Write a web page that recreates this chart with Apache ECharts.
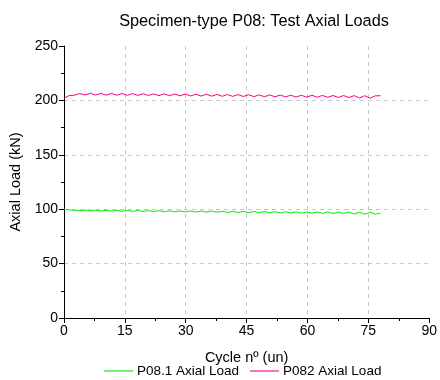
<!DOCTYPE html>
<html><head><meta charset="utf-8">
<script src="https://cdn.jsdelivr.net/npm/echarts@6/dist/echarts.min.js"></script>
<style>html,body{margin:0;padding:0;background:#fff}#c{width:440px;height:380px}</style>
</head><body><div id="c"></div>
<script>
const cycles = [0,1.3,2.6,3.9,5.2,6.5,7.8,9.1,10.4,11.7,13,14.3,15.6,16.9,18.2,19.5,20.8,22.1,23.4,24.7,26,27.3,28.6,29.9,31.2,32.5,33.8,35.1,36.4,37.7,39,40.3,41.6,42.9,44.2,45.5,46.8,48.1,49.4,50.7,52,53.3,54.6,55.9,57.2,58.5,59.8,61.1,62.4,63.7,65,66.3,67.6,68.9,70.2,71.5,72.8,74.1,75.4,76.7,78];
const p081Load = [100.0,99.3,99.0,98.5,99.2,98.4,99.1,98.3,99.1,98.2,99.0,98.1,98.9,98.0,98.8,97.9,98.7,97.8,98.6,97.7,98.5,97.6,98.4,97.5,98.4,97.4,98.3,97.3,98.2,97.2,98.1,97.1,98.0,97.0,98.0,96.9,97.9,96.8,97.8,96.7,97.7,96.6,97.7,96.5,97.6,96.4,97.5,96.3,97.5,96.2,97.4,96.1,97.3,96.0,97.3,95.6,97.2,95.4,97.1,95.3,96.5];
const p082Load = [202.0,204.5,204.8,206.3,205.0,206.5,205.0,206.4,204.8,206.4,204.8,206.3,204.7,206.2,204.6,206.1,204.5,206.0,204.4,206.0,204.3,205.9,204.2,205.8,204.1,205.7,204.0,205.6,203.9,205.5,203.8,205.4,203.7,205.3,203.6,205.2,203.5,205.1,203.4,205.0,203.3,204.9,203.2,204.8,203.1,204.7,203.0,204.7,202.9,204.6,202.8,204.5,202.7,204.5,202.6,204.4,202.2,204.3,202.0,204.2,204.3];
const xTicks = [0,15,30,45,60,75,90];
const yTicks = [0,50,100,150,200,250];
const seriesNames = ['P08.1 Axial Load','P082 Axial Load'];

const chart = echarts.init(document.getElementById('c'), null, {renderer:'canvas'});
const F = 'Arial, "Liberation Sans", sans-serif';
chart.setOption({
  animation:false,
  backgroundColor:'#fff',
  title:{text:'Specimen-type P08: Test Axial Loads',left:249,top:9,textAlign:'center',
    textStyle:{fontFamily:F,fontSize:16.3,fontWeight:'normal',color:'#000'}},
  grid:{left:64,right:8,top:46,bottom:62},
  legend:{top:364,left:104,padding:0,itemWidth:29,itemHeight:2,itemGap:11,icon:'rect',
    textStyle:{fontFamily:F,fontSize:13.5,color:'#000',padding:[0,0,0,-1]},
    data:[{name:seriesNames[0],itemStyle:{color:'#70f570'},lineStyle:{color:'#70f570'}},
          {name:seriesNames[1],itemStyle:{color:'#ff70b4'},lineStyle:{color:'#ff70b4'}}]},
  xAxis:{type:'value',min:xTicks[0],max:xTicks[xTicks.length-1],interval:15,
    name:'Cycle nº (un)',nameLocation:'middle',nameGap:32,
    nameTextStyle:{fontFamily:F,fontSize:14.5,color:'#000'},
    axisLine:{onZero:false,lineStyle:{color:'#000',width:1}},
    axisTick:{show:true,inside:false,length:5,lineStyle:{color:'#000'}},
    minorTick:{show:true,splitNumber:2,length:3,lineStyle:{color:'#000'}},
    axisLabel:{fontFamily:F,fontSize:14,color:'#000',margin:6},
    splitLine:{show:true,showMinLine:false,showMaxLine:false,lineStyle:{color:'#c8c8c8',type:[4,4],width:1}}},
  yAxis:{type:'value',min:yTicks[0],max:yTicks[yTicks.length-1],interval:50,
    name:'Axial Load (kN)',nameLocation:'middle',nameGap:41,
    nameTextStyle:{fontFamily:F,fontSize:14.5,color:'#000'},
    axisLine:{show:true,lineStyle:{color:'#000',width:1}},
    axisTick:{show:true,inside:false,length:5,lineStyle:{color:'#000'}},
    minorTick:{show:true,splitNumber:2,length:3,lineStyle:{color:'#000'}},
    axisLabel:{fontFamily:F,fontSize:14,color:'#000',margin:6},
    splitLine:{show:true,showMinLine:false,showMaxLine:false,lineStyle:{color:'#c8c8c8',type:[4,4],width:1}}},
  series:[
    {name:seriesNames[0],type:'line',showSymbol:false,color:'#00ff00',
      lineStyle:{width:1,color:'#00ee00'},data:cycles.map((c,i)=>[c,p081Load[i]])},
    {name:seriesNames[1],type:'line',showSymbol:false,color:'#ff0080',
      lineStyle:{width:1,color:'#ff0080'},data:cycles.map((c,i)=>[c,p082Load[i]])}
  ]
});
</script></body></html>
